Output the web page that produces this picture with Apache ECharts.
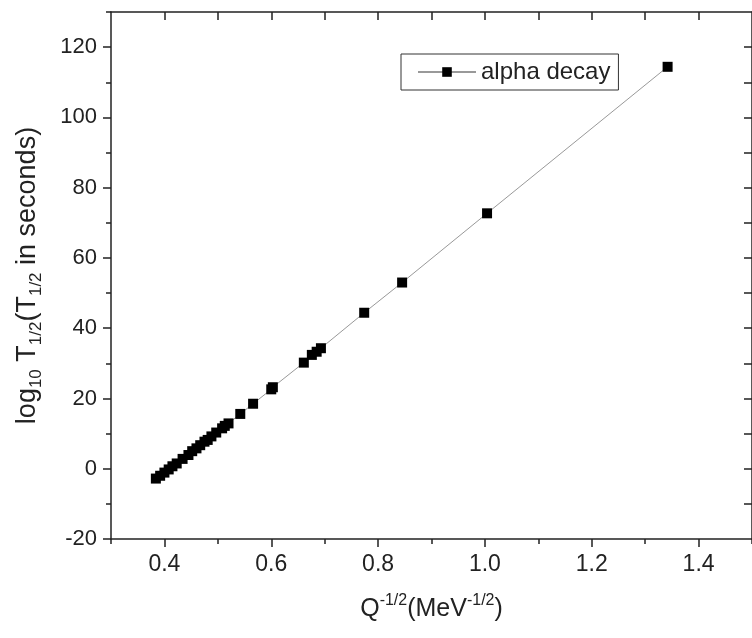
<!DOCTYPE html>
<html>
<head>
<meta charset="utf-8">
<script src="https://cdn.jsdelivr.net/npm/echarts@6/dist/echarts.min.js"></script>
<style>html,body{margin:0;padding:0;background:#fff;}#c{width:752px;height:638px;}</style>
</head>
<body>
<div id="c"></div>
<script>
// Data
var seriesName = 'alpha decay';
var xValues = [0.384, 0.392, 0.400, 0.408, 0.415, 0.423, 0.434, 0.445, 0.452, 0.460, 0.467, 0.475, 0.481, 0.488, 0.497, 0.508, 0.513, 0.520, 0.542, 0.566, 0.600, 0.603, 0.661, 0.676, 0.685, 0.693, 0.774, 0.845, 1.004, 1.342];
var yValues = [-2.8, -2.0, -1.1, -0.2, 0.7, 1.5, 2.8, 3.9, 5.0, 5.8, 6.7, 7.7, 8.2, 9.2, 10.3, 11.5, 12.2, 12.9, 15.6, 18.5, 22.6, 23.2, 30.2, 32.4, 33.3, 34.3, 44.4, 53.0, 72.7, 114.4];
var xMajorTicks = [0.4, 0.6, 0.8, 1.0, 1.2, 1.4];
var xMinorTicks = [0.3, 0.5, 0.7, 0.9, 1.1, 1.3, 1.5];
var xTopTicks = [0.4, 0.5, 0.6, 0.7, 0.8, 0.9, 1.0, 1.1, 1.2, 1.3, 1.4];
var yMajorTicks = [-20, 0, 20, 40, 60, 80, 100, 120];
var yMinorTicks = [-10, 10, 30, 50, 70, 90, 110, 130];
var yRightTicks = [-10, 0, 10, 20, 30, 40, 50, 60, 70, 80, 90, 100, 110, 120];

var data = xValues.map(function (x, i) { return [x, yValues[i]]; });
var FONT = "'Liberation Sans', Arial, sans-serif";
var AX = '#222';

var chart = echarts.init(document.getElementById('c'), null, {renderer: 'canvas'});
var gridRect = {left: 111, top: 12, width: 648, height: 527};
var xNameRich = {
  n: {fontSize: 25, fontFamily: FONT, color: AX, lineHeight: 32},
  sup: {fontSize: 16, fontFamily: FONT, color: AX, lineHeight: 16, verticalAlign: 'top'}
};
var yNameRich = {
  n: {fontSize: 27, fontFamily: FONT, color: AX, lineHeight: 34},
  sub: {fontSize: 17, fontFamily: FONT, color: AX, lineHeight: 17, verticalAlign: 'bottom'}
};
function hiddenAxisCommon() {
  return {axisLine: {show: false, onZero: false}, axisLabel: {show: false}, splitLine: {show: false}};
}
var option = {
  animation: false,
  backgroundColor: '#fff',
  grid: [Object.assign({}, gridRect), Object.assign({}, gridRect)],
  legend: {
    left: 401, top: 54,
    data: [seriesName],
    borderColor: '#333', borderWidth: 1,
    padding: [6, 8, 6, 16],
    itemWidth: 58, itemHeight: 12,
    textStyle: {fontSize: 24, fontFamily: FONT, color: AX}
  },
  xAxis: [
    {
      type: 'value', gridIndex: 0, position: 'bottom', min: 0.3, max: 1.5,
      name: '{n|Q}{sup|-1/2}{n|(MeV}{sup|-1/2}{n|)}',
      nameLocation: 'middle', nameGap: 54,
      nameTextStyle: {rich: xNameRich},
      axisLine: {onZero: false, lineStyle: {color: AX, width: 1.5}},
      axisTick: {customValues: xMajorTicks, length: 8, lineStyle: {color: AX, width: 1.5}},
      axisLabel: {customValues: xMajorTicks, margin: 14, fontSize: 23, fontFamily: FONT, color: AX,
        formatter: function (v) { return v.toFixed(1); }},
      splitLine: {show: false}
    },
    {
      type: 'value', gridIndex: 0, position: 'top', min: 0.3, max: 1.5,
      axisLine: {onZero: false, lineStyle: {color: AX, width: 1.5}},
      axisTick: {customValues: xTopTicks, inside: true, length: 8, lineStyle: {color: AX, width: 1.5}},
      axisLabel: {show: false}, splitLine: {show: false}
    },
    Object.assign(hiddenAxisCommon(), {
      type: 'value', gridIndex: 1, position: 'bottom', min: 0.3, max: 1.5,
      axisTick: {customValues: xMinorTicks, length: 5, lineStyle: {color: AX, width: 1.5}}
    })
  ],
  yAxis: [
    {
      type: 'value', gridIndex: 0, position: 'left', min: -20, max: 130,
      name: '{n|log}{sub|10}{n| T}{sub|1/2}{n|(T}{sub|1/2}{n| in seconds)}',
      nameLocation: 'middle', nameGap: 66, nameRotate: 90,
      nameTextStyle: {rich: yNameRich},
      axisLine: {onZero: false, lineStyle: {color: AX, width: 1.5}},
      axisTick: {customValues: yMajorTicks, length: 8, lineStyle: {color: AX, width: 1.5}},
      axisLabel: {customValues: yMajorTicks, margin: 14, fontSize: 22, fontFamily: FONT, color: AX},
      splitLine: {show: false}
    },
    {
      type: 'value', gridIndex: 0, position: 'right', min: -20, max: 130,
      axisLine: {onZero: false, lineStyle: {color: AX, width: 1.5}},
      axisTick: {customValues: yRightTicks, inside: true, length: 8, lineStyle: {color: AX, width: 1.5}},
      axisLabel: {show: false}, splitLine: {show: false}
    },
    Object.assign(hiddenAxisCommon(), {
      type: 'value', gridIndex: 1, position: 'left', min: -20, max: 130,
      axisTick: {customValues: yMinorTicks, length: 5, lineStyle: {color: AX, width: 1.5}}
    })
  ],
  series: [{
    name: seriesName,
    type: 'line',
    xAxisIndex: 0, yAxisIndex: 0,
    data: data,
    symbol: 'rect', symbolSize: 10,
    itemStyle: {color: '#000'},
    lineStyle: {color: '#999', width: 1},
    z: 3
  }]
};
chart.setOption(option);
</script>
</body>
</html>
